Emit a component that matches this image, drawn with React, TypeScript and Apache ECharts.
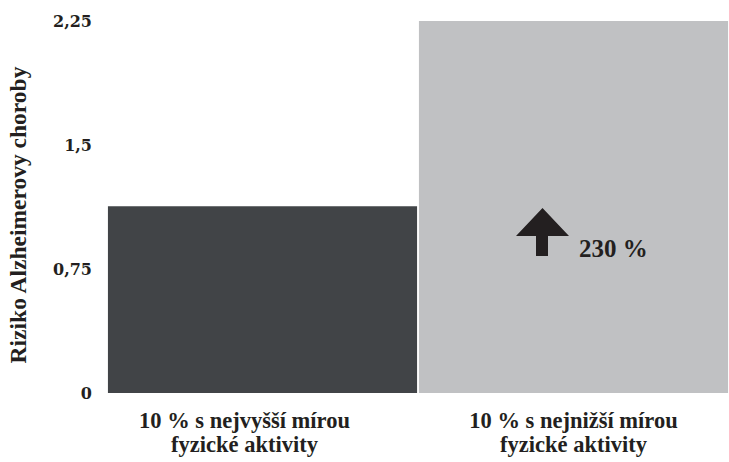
import React, { useEffect, useRef } from "react";
import * as echarts from "echarts";

// Groups compared and their relative risk
const categories = [
  "10 % s nejvyšší mírou\nfyzické aktivity",
  "10 % s nejnižší mírou\nfyzické aktivity",
];
const riskValues = [1.13, 2.25];
const barColors = ["#414447", "#c0c1c3"];

// Value axis ticks and their printed labels
const yTicks = [0, 0.75, 1.5, 2.25];
const yTickLabels = ["0", "0,75", "1,5", "2,25"];

const axisTitle = "Riziko Alzheimerovy choroby";
const changeLabel = "230 %";

const INK = "#231f20";
const SERIF = "'Liberation Serif', 'Times New Roman', serif";
const TICK_FONT = "'DejaVu Serif', serif";

export default function App() {
  const ref = useRef<HTMLDivElement>(null);

  useEffect(() => {
    if (!ref.current) return;
    const chart = echarts.init(ref.current, null, { renderer: "svg" });

    chart.setOption({
      animation: false,
      backgroundColor: "#ffffff",
      grid: { left: 107, right: 0, top: 21, bottom: 69, containLabel: false },
      xAxis: {
        type: "category",
        // the first caption sits a little left of its bar's centre
        data: categories.map((c, i) =>
          i === 0 ? { value: c, textStyle: { padding: [0, 36, 0, 0] } } : c
        ),
        axisLine: { show: false },
        axisTick: { show: false },
        axisLabel: {
          margin: 15,
          fontFamily: SERIF,
          fontWeight: "bold",
          fontSize: 22.5,
          lineHeight: 24,
          color: INK,
          interval: 0,
        },
      },
      yAxis: {
        type: "value",
        min: yTicks[0],
        max: yTicks[yTicks.length - 1],
        interval: yTicks[1] - yTicks[0],
        axisLine: { show: false },
        axisTick: { show: false },
        splitLine: { show: false },
        axisLabel: {
          margin: 15,
          fontFamily: TICK_FONT,
          fontWeight: "bold",
          fontSize: 16,
          color: INK,
          formatter: (v: number) => {
            const i = yTicks.findIndex((t) => Math.abs(t - v) < 1e-9);
            return i >= 0 ? yTickLabels[i] : "";
          },
        },
      },
      series: [
        {
          type: "bar",
          data: riskValues.map((v, i) => ({
            value: v,
            itemStyle: { color: barColors[i] },
          })),
          barCategoryGap: "0.6%",
        },
      ],
      graphic: [
        {
          type: "text",
          z: 10,
          x: 18,
          y: 215,
          rotation: Math.PI / 2,
          style: {
            text: axisTitle,
            font: `bold 23.5px ${SERIF}`,
            fill: INK,
            align: "center",
            verticalAlign: "middle",
          },
        },
        {
          type: "polygon",
          z: 10,
          shape: {
            points: [
              [542.5, 208],
              [569, 236],
              [548, 236],
              [548, 256],
              [536, 256],
              [536, 236],
              [516, 236],
            ],
          },
          style: { fill: INK },
        },
        {
          type: "text",
          z: 10,
          x: 579,
          y: 248,
          style: {
            text: changeLabel,
            font: `bold 25px ${SERIF}`,
            fill: INK,
            align: "left",
            verticalAlign: "middle",
          },
        },
      ],
    });

    return () => chart.dispose();
  }, []);

  return (
    <div
      ref={ref}
      style={{ position: "fixed", left: 0, top: 0, width: 729, height: 462 }}
    />
  );
}
